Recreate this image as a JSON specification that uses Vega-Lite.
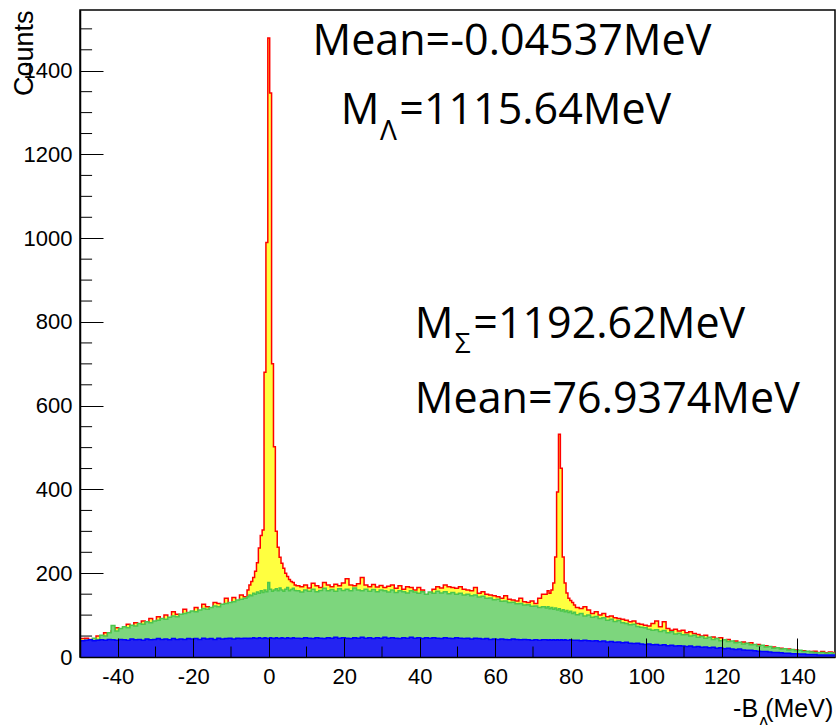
{
  "$schema": "https://vega.github.io/schema/vega-lite/v6.json",
  "width": 755,
  "height": 647,
  "autosize": {"type": "none"},
  "padding": {"left": 80, "top": 10, "right": 1, "bottom": 68},
  "background": "white",
  "config": {"view": {"stroke": "black", "strokeWidth": 1.5}},
  "datasets": {
    "h": [
      {"x": -50.75, "t": 44, "g": 38, "b": 38},
      {"x": -49.75, "t": 44, "g": 38, "b": 39},
      {"x": -48.75, "t": 45, "g": 40, "b": 40},
      {"x": -47.75, "t": 42, "g": 37, "b": 41},
      {"x": -46.75, "t": 40, "g": 45, "b": 39},
      {"x": -45.75, "t": 50, "g": 42, "b": 40},
      {"x": -44.75, "t": 48, "g": 52, "b": 41},
      {"x": -43.75, "t": 58, "g": 50, "b": 40},
      {"x": -42.75, "t": 52, "g": 58, "b": 42},
      {"x": -41.75, "t": 62, "g": 75, "b": 41},
      {"x": -40.75, "t": 70, "g": 62, "b": 40},
      {"x": -39.75, "t": 66, "g": 68, "b": 42},
      {"x": -38.75, "t": 68, "g": 72, "b": 41},
      {"x": -37.75, "t": 78, "g": 70, "b": 40},
      {"x": -36.75, "t": 72, "g": 76, "b": 43},
      {"x": -35.75, "t": 82, "g": 74, "b": 41},
      {"x": -34.75, "t": 76, "g": 80, "b": 42},
      {"x": -33.75, "t": 86, "g": 78, "b": 40},
      {"x": -32.75, "t": 80, "g": 84, "b": 43},
      {"x": -31.75, "t": 92, "g": 82, "b": 41},
      {"x": -30.75, "t": 84, "g": 86, "b": 42},
      {"x": -29.75, "t": 96, "g": 88, "b": 44},
      {"x": -28.75, "t": 90, "g": 92, "b": 42},
      {"x": -27.75, "t": 100, "g": 90, "b": 43},
      {"x": -26.75, "t": 92, "g": 95, "b": 41},
      {"x": -25.75, "t": 108, "g": 98, "b": 44},
      {"x": -24.75, "t": 102, "g": 96, "b": 42},
      {"x": -23.75, "t": 98, "g": 102, "b": 43},
      {"x": -22.75, "t": 114, "g": 104, "b": 42},
      {"x": -21.75, "t": 104, "g": 106, "b": 44},
      {"x": -20.75, "t": 108, "g": 110, "b": 43},
      {"x": -19.75, "t": 118, "g": 108, "b": 44},
      {"x": -18.75, "t": 110, "g": 112, "b": 42},
      {"x": -17.75, "t": 126, "g": 116, "b": 45},
      {"x": -16.75, "t": 120, "g": 114, "b": 43},
      {"x": -15.75, "t": 116, "g": 118, "b": 44},
      {"x": -14.75, "t": 130, "g": 122, "b": 42},
      {"x": -13.75, "t": 128, "g": 120, "b": 45},
      {"x": -12.75, "t": 122, "g": 126, "b": 43},
      {"x": -11.75, "t": 140, "g": 128, "b": 44},
      {"x": -10.75, "t": 126, "g": 130, "b": 45},
      {"x": -9.75, "t": 142, "g": 132, "b": 43},
      {"x": -8.75, "t": 130, "g": 136, "b": 45},
      {"x": -7.75, "t": 148, "g": 138, "b": 44},
      {"x": -6.75, "t": 144, "g": 140, "b": 45},
      {"x": -5.75, "t": 160, "g": 144, "b": 44},
      {"x": -5.25, "t": 172, "g": 148, "b": 45},
      {"x": -4.75, "t": 180, "g": 146, "b": 44},
      {"x": -4.25, "t": 190, "g": 152, "b": 46},
      {"x": -3.75, "t": 205, "g": 150, "b": 45},
      {"x": -3.25, "t": 225, "g": 155, "b": 44},
      {"x": -2.75, "t": 260, "g": 152, "b": 46},
      {"x": -2.25, "t": 290, "g": 158, "b": 45},
      {"x": -1.75, "t": 303, "g": 154, "b": 44},
      {"x": -1.25, "t": 680, "g": 160, "b": 46},
      {"x": -0.75, "t": 990, "g": 156, "b": 45},
      {"x": -0.25, "t": 1478, "g": 178, "b": 44},
      {"x": 0.25, "t": 1347, "g": 162, "b": 46},
      {"x": 0.75, "t": 700, "g": 157, "b": 45},
      {"x": 1.25, "t": 502, "g": 160, "b": 44},
      {"x": 1.75, "t": 300, "g": 163, "b": 46},
      {"x": 2.25, "t": 262, "g": 158, "b": 45},
      {"x": 2.75, "t": 238, "g": 165, "b": 44},
      {"x": 3.25, "t": 224, "g": 160, "b": 46},
      {"x": 3.75, "t": 212, "g": 157, "b": 45},
      {"x": 4.25, "t": 200, "g": 162, "b": 44},
      {"x": 4.75, "t": 192, "g": 166, "b": 46},
      {"x": 5.25, "t": 185, "g": 158, "b": 45},
      {"x": 5.75, "t": 180, "g": 161, "b": 44},
      {"x": 6.25, "t": 178, "g": 164, "b": 46},
      {"x": 6.75, "t": 172, "g": 159, "b": 45},
      {"x": 7.25, "t": 170, "g": 158, "b": 45},
      {"x": 8.25, "t": 168, "g": 155, "b": 44},
      {"x": 9.25, "t": 172, "g": 160, "b": 46},
      {"x": 10.25, "t": 165, "g": 157, "b": 45},
      {"x": 11.25, "t": 176, "g": 162, "b": 44},
      {"x": 12.25, "t": 170, "g": 156, "b": 46},
      {"x": 13.25, "t": 166, "g": 159, "b": 45},
      {"x": 14.25, "t": 178, "g": 164, "b": 44},
      {"x": 15.25, "t": 172, "g": 158, "b": 46},
      {"x": 16.25, "t": 168, "g": 161, "b": 45},
      {"x": 17.25, "t": 174, "g": 157, "b": 47},
      {"x": 18.25, "t": 170, "g": 163, "b": 45},
      {"x": 19.25, "t": 177, "g": 159, "b": 46},
      {"x": 20.25, "t": 187, "g": 162, "b": 45},
      {"x": 21.25, "t": 172, "g": 158, "b": 44},
      {"x": 22.25, "t": 170, "g": 165, "b": 46},
      {"x": 23.25, "t": 175, "g": 160, "b": 45},
      {"x": 24.25, "t": 190, "g": 158, "b": 47},
      {"x": 25.25, "t": 172, "g": 162, "b": 45},
      {"x": 26.25, "t": 168, "g": 157, "b": 46},
      {"x": 27.25, "t": 173, "g": 161, "b": 44},
      {"x": 28.25, "t": 167, "g": 156, "b": 46},
      {"x": 29.25, "t": 171, "g": 160, "b": 45},
      {"x": 30.25, "t": 166, "g": 158, "b": 47},
      {"x": 31.25, "t": 169, "g": 155, "b": 45},
      {"x": 32.25, "t": 172, "g": 160, "b": 46},
      {"x": 33.25, "t": 164, "g": 154, "b": 45},
      {"x": 34.25, "t": 170, "g": 158, "b": 44},
      {"x": 35.25, "t": 162, "g": 156, "b": 46},
      {"x": 36.25, "t": 168, "g": 153, "b": 45},
      {"x": 37.25, "t": 166, "g": 158, "b": 47},
      {"x": 38.25, "t": 160, "g": 155, "b": 45},
      {"x": 39.25, "t": 166, "g": 152, "b": 46},
      {"x": 40.25, "t": 160, "g": 156, "b": 44},
      {"x": 41.25, "t": 126, "g": 150, "b": 46},
      {"x": 42.25, "t": 150, "g": 155, "b": 45},
      {"x": 43.25, "t": 162, "g": 152, "b": 46},
      {"x": 44.25, "t": 168, "g": 157, "b": 45},
      {"x": 45.25, "t": 165, "g": 153, "b": 44},
      {"x": 46.25, "t": 172, "g": 156, "b": 46},
      {"x": 47.25, "t": 168, "g": 151, "b": 45},
      {"x": 48.25, "t": 166, "g": 154, "b": 44},
      {"x": 49.25, "t": 164, "g": 150, "b": 46},
      {"x": 50.25, "t": 168, "g": 152, "b": 45},
      {"x": 51.25, "t": 162, "g": 148, "b": 44},
      {"x": 52.25, "t": 160, "g": 150, "b": 45},
      {"x": 53.25, "t": 158, "g": 146, "b": 43},
      {"x": 54.25, "t": 166, "g": 148, "b": 45},
      {"x": 55.25, "t": 152, "g": 143, "b": 44},
      {"x": 56.25, "t": 156, "g": 145, "b": 43},
      {"x": 57.25, "t": 150, "g": 140, "b": 44},
      {"x": 58.25, "t": 148, "g": 141, "b": 42},
      {"x": 59.25, "t": 146, "g": 137, "b": 43},
      {"x": 60.25, "t": 144, "g": 138, "b": 42},
      {"x": 61.25, "t": 140, "g": 133, "b": 43},
      {"x": 62.25, "t": 146, "g": 134, "b": 42},
      {"x": 63.25, "t": 138, "g": 130, "b": 41},
      {"x": 64.25, "t": 136, "g": 131, "b": 43},
      {"x": 65.25, "t": 134, "g": 127, "b": 42},
      {"x": 66.25, "t": 140, "g": 128, "b": 41},
      {"x": 67.25, "t": 132, "g": 124, "b": 42},
      {"x": 68.25, "t": 130, "g": 125, "b": 41},
      {"x": 69.25, "t": 134, "g": 121, "b": 40},
      {"x": 70.25, "t": 128, "g": 122, "b": 41},
      {"x": 71.25, "t": 140, "g": 118, "b": 40},
      {"x": 72.25, "t": 150, "g": 120, "b": 41},
      {"x": 73.25, "t": 150, "g": 117, "b": 41},
      {"x": 73.75, "t": 158, "g": 120, "b": 40},
      {"x": 74.25, "t": 152, "g": 115, "b": 41},
      {"x": 74.75, "t": 160, "g": 118, "b": 40},
      {"x": 75.25, "t": 177, "g": 114, "b": 41},
      {"x": 75.75, "t": 239, "g": 117, "b": 40},
      {"x": 76.25, "t": 394, "g": 112, "b": 41},
      {"x": 76.75, "t": 532, "g": 115, "b": 40},
      {"x": 77.25, "t": 451, "g": 110, "b": 41},
      {"x": 77.75, "t": 239, "g": 113, "b": 40},
      {"x": 78.25, "t": 177, "g": 108, "b": 41},
      {"x": 78.75, "t": 153, "g": 111, "b": 40},
      {"x": 79.25, "t": 140, "g": 106, "b": 40},
      {"x": 79.75, "t": 135, "g": 109, "b": 41},
      {"x": 80.25, "t": 130, "g": 104, "b": 40},
      {"x": 80.75, "t": 124, "g": 107, "b": 40},
      {"x": 81.25, "t": 118, "g": 101, "b": 40},
      {"x": 82.25, "t": 116, "g": 104, "b": 39},
      {"x": 83.25, "t": 120, "g": 98, "b": 40},
      {"x": 84.25, "t": 112, "g": 100, "b": 39},
      {"x": 85.25, "t": 104, "g": 95, "b": 38},
      {"x": 86.25, "t": 108, "g": 97, "b": 39},
      {"x": 87.25, "t": 100, "g": 92, "b": 37},
      {"x": 88.25, "t": 104, "g": 94, "b": 38},
      {"x": 89.25, "t": 96, "g": 88, "b": 36},
      {"x": 90.25, "t": 98, "g": 90, "b": 37},
      {"x": 91.25, "t": 94, "g": 85, "b": 35},
      {"x": 92.25, "t": 92, "g": 87, "b": 36},
      {"x": 93.25, "t": 90, "g": 82, "b": 34},
      {"x": 94.25, "t": 88, "g": 80, "b": 35},
      {"x": 95.25, "t": 84, "g": 77, "b": 33},
      {"x": 96.25, "t": 86, "g": 78, "b": 32},
      {"x": 97.25, "t": 80, "g": 73, "b": 33},
      {"x": 98.25, "t": 78, "g": 71, "b": 31},
      {"x": 99.25, "t": 76, "g": 70, "b": 30},
      {"x": 100.25, "t": 74, "g": 66, "b": 31},
      {"x": 101.25, "t": 80, "g": 64, "b": 29},
      {"x": 102.25, "t": 86, "g": 65, "b": 30},
      {"x": 103.25, "t": 72, "g": 61, "b": 28},
      {"x": 104.25, "t": 84, "g": 63, "b": 29},
      {"x": 105.25, "t": 68, "g": 58, "b": 27},
      {"x": 106.25, "t": 64, "g": 60, "b": 28},
      {"x": 107.25, "t": 66, "g": 55, "b": 26},
      {"x": 108.25, "t": 62, "g": 57, "b": 27},
      {"x": 109.25, "t": 64, "g": 53, "b": 26},
      {"x": 110.25, "t": 58, "g": 54, "b": 25},
      {"x": 111.25, "t": 60, "g": 50, "b": 26},
      {"x": 112.25, "t": 56, "g": 52, "b": 24},
      {"x": 113.25, "t": 54, "g": 47, "b": 25},
      {"x": 114.25, "t": 50, "g": 49, "b": 23},
      {"x": 115.25, "t": 52, "g": 45, "b": 24},
      {"x": 116.25, "t": 46, "g": 47, "b": 22},
      {"x": 117.25, "t": 48, "g": 42, "b": 23},
      {"x": 118.25, "t": 44, "g": 44, "b": 21},
      {"x": 119.25, "t": 46, "g": 39, "b": 22},
      {"x": 120.25, "t": 40, "g": 41, "b": 20},
      {"x": 121.25, "t": 42, "g": 37, "b": 21},
      {"x": 122.25, "t": 36, "g": 38, "b": 19},
      {"x": 123.25, "t": 38, "g": 34, "b": 18},
      {"x": 124.25, "t": 34, "g": 35, "b": 19},
      {"x": 125.25, "t": 36, "g": 31, "b": 17},
      {"x": 126.25, "t": 32, "g": 33, "b": 16},
      {"x": 127.25, "t": 34, "g": 29, "b": 16},
      {"x": 128.25, "t": 28, "g": 30, "b": 15},
      {"x": 129.25, "t": 30, "g": 26, "b": 14},
      {"x": 130.25, "t": 26, "g": 28, "b": 13},
      {"x": 131.25, "t": 27, "g": 24, "b": 13},
      {"x": 132.25, "t": 22, "g": 25, "b": 12},
      {"x": 133.25, "t": 24, "g": 21, "b": 11},
      {"x": 134.25, "t": 20, "g": 22, "b": 11},
      {"x": 135.25, "t": 21, "g": 19, "b": 10},
      {"x": 136.25, "t": 18, "g": 20, "b": 9},
      {"x": 137.25, "t": 19, "g": 17, "b": 9},
      {"x": 138.25, "t": 16, "g": 18, "b": 8},
      {"x": 139.25, "t": 17, "g": 15, "b": 8},
      {"x": 140.25, "t": 14, "g": 16, "b": 7},
      {"x": 141.25, "t": 15, "g": 13, "b": 7},
      {"x": 142.25, "t": 12, "g": 14, "b": 6},
      {"x": 143.25, "t": 13, "g": 12, "b": 6},
      {"x": 144.25, "t": 14, "g": 11, "b": 6},
      {"x": 145.25, "t": 11, "g": 10, "b": 5},
      {"x": 146.25, "t": 13, "g": 11, "b": 5},
      {"x": 147.25, "t": 10, "g": 9, "b": 5},
      {"x": 148.25, "t": 12, "g": 10, "b": 5},
      {"x": 149.25, "t": 11, "g": 9, "b": 5},
      {"x": 150.25, "t": 11, "g": 9, "b": 5}
    ],
    "ann": [
      {"x": 11.6, "y": 1437, "label": "Mean=-0.04537MeV"},
      {"x": 19.1, "y": 1273, "label": "M"},
      {"x": 34.6, "y": 1273, "label": "=1115.64MeV"},
      {"x": 38.7, "y": 762, "label": "M"},
      {"x": 54.2, "y": 762, "label": "=1192.62MeV"},
      {"x": 38.7, "y": 583, "label": "Mean=76.9374MeV"}
    ],
    "sub": [
      {"x": 29.5, "y": 1235, "label": "Λ"},
      {"x": 49.3, "y": 726, "label": "Σ"}
    ],
    "xt": [
      {"x": 123, "y": -143, "label": "-B"},
      {"x": 131.5, "y": -143, "label": "(MeV)"}
    ],
    "xtsub": [
      {"x": 129.6, "y": -172, "label": "Λ"}
    ],
    "yminor": [
      {"v": 50}, {"v": 100}, {"v": 150}, {"v": 250}, {"v": 300}, {"v": 350},
      {"v": 450}, {"v": 500}, {"v": 550}, {"v": 650}, {"v": 700}, {"v": 750},
      {"v": 850}, {"v": 900}, {"v": 950}, {"v": 1050}, {"v": 1100}, {"v": 1150},
      {"v": 1250}, {"v": 1300}, {"v": 1350}, {"v": 1450}, {"v": 1500}
    ],
    "xminor": [
      {"v": -30}, {"v": -10}, {"v": 10}, {"v": 30}, {"v": 50}, {"v": 70},
      {"v": 90}, {"v": 110}, {"v": 130}
    ]
  },
  "layer": [
    {
      "data": {"name": "h"},
      "mark": {"type": "area", "interpolate": "step-after", "clip": true, "color": "#ffff40", "opacity": 1},
      "encoding": {
        "x": {
          "field": "x", "type": "quantitative",
          "scale": {"domain": [-50, 150], "nice": false, "zero": false},
          "axis": {
            "title": null,
            "values": [-40, -20, 0, 20, 40, 60, 80, 100, 120, 140],
            "labelExpr": "'' + datum.value",
            "tickSize": -19,
            "labelPadding": 28,
            "labelFont": "Liberation Sans", "labelFontSize": 22, "labelColor": "black",
            "labelFlush": false, "labelOverlap": false, "labelBound": false,
            "grid": false, "zindex": 1,
            "domainColor": "black", "domainWidth": 1.5,
            "tickColor": "black", "tickWidth": 1
          }
        },
        "y": {
          "field": "t", "type": "quantitative",
          "scale": {"domain": [0, 1545], "nice": false},
          "axis": {
            "title": "Counts",
            "values": [0, 200, 400, 600, 800, 1000, 1200, 1400],
            "labelExpr": "'' + datum.value",
            "tickSize": -23,
            "labelPadding": 31,
            "labelFont": "Liberation Sans", "labelFontSize": 22, "labelColor": "black",
            "labelOverlap": false, "labelBound": false, "labelFlush": false,
            "titleFont": "Liberation Sans", "titleFontSize": 27, "titleFontWeight": "normal", "titleColor": "black",
            "titleAngle": -90, "titleAlign": "right", "titleBaseline": "alphabetic",
            "titleX": -48, "titleY": 0,
            "grid": false, "zindex": 1,
            "domainColor": "black", "domainWidth": 1.5,
            "tickColor": "black", "tickWidth": 1
          }
        }
      }
    },
    {
      "data": {"name": "h"},
      "mark": {"type": "line", "interpolate": "step-after", "clip": true, "color": "#ff0000", "strokeWidth": 1.5},
      "encoding": {
        "x": {"field": "x", "type": "quantitative"},
        "y": {"field": "t", "type": "quantitative"}
      }
    },
    {
      "data": {"name": "h"},
      "mark": {"type": "area", "interpolate": "step-after", "clip": true, "color": "#7dd67d", "opacity": 1, "line": {"color": "#4cc64c", "strokeWidth": 1.5}},
      "encoding": {
        "x": {"field": "x", "type": "quantitative"},
        "y": {"field": "g", "type": "quantitative"}
      }
    },
    {
      "data": {"name": "h"},
      "mark": {"type": "area", "interpolate": "step-after", "clip": true, "color": "#2424f2", "opacity": 1, "line": {"color": "#0000ff", "strokeWidth": 1.5}},
      "encoding": {
        "x": {"field": "x", "type": "quantitative"},
        "y": {"field": "b", "type": "quantitative"}
      }
    },
    {
      "data": {"name": "yminor"},
      "mark": {"type": "rule", "color": "black", "strokeWidth": 1},
      "encoding": {
        "y": {"field": "v", "type": "quantitative"},
        "x": {"datum": -50},
        "x2": {"datum": -46.8}
      }
    },
    {
      "data": {"name": "xminor"},
      "mark": {"type": "rule", "color": "black", "strokeWidth": 1},
      "encoding": {
        "x": {"field": "v", "type": "quantitative"},
        "y": {"datum": 0},
        "y2": {"datum": 25}
      }
    },
    {
      "data": {"name": "ann"},
      "mark": {"type": "text", "font": "Open Sans", "fontSize": 43, "align": "left", "baseline": "alphabetic", "color": "black"},
      "encoding": {
        "x": {"field": "x", "type": "quantitative"},
        "y": {"field": "y", "type": "quantitative"},
        "text": {"field": "label"}
      }
    },
    {
      "data": {"name": "sub"},
      "mark": {"type": "text", "font": "Open Sans", "fontSize": 28, "align": "left", "baseline": "alphabetic", "color": "black"},
      "encoding": {
        "x": {"field": "x", "type": "quantitative"},
        "y": {"field": "y", "type": "quantitative"},
        "text": {"field": "label"}
      }
    },
    {
      "data": {"name": "xt"},
      "mark": {"type": "text", "font": "Liberation Sans", "fontSize": 25, "align": "left", "baseline": "alphabetic", "color": "black"},
      "encoding": {
        "x": {"field": "x", "type": "quantitative"},
        "y": {"field": "y", "type": "quantitative"},
        "text": {"field": "label"}
      }
    },
    {
      "data": {"name": "xtsub"},
      "mark": {"type": "text", "font": "Liberation Sans", "fontSize": 17, "align": "left", "baseline": "alphabetic", "color": "black"},
      "encoding": {
        "x": {"field": "x", "type": "quantitative"},
        "y": {"field": "y", "type": "quantitative"},
        "text": {"field": "label"}
      }
    }
  ]
}
